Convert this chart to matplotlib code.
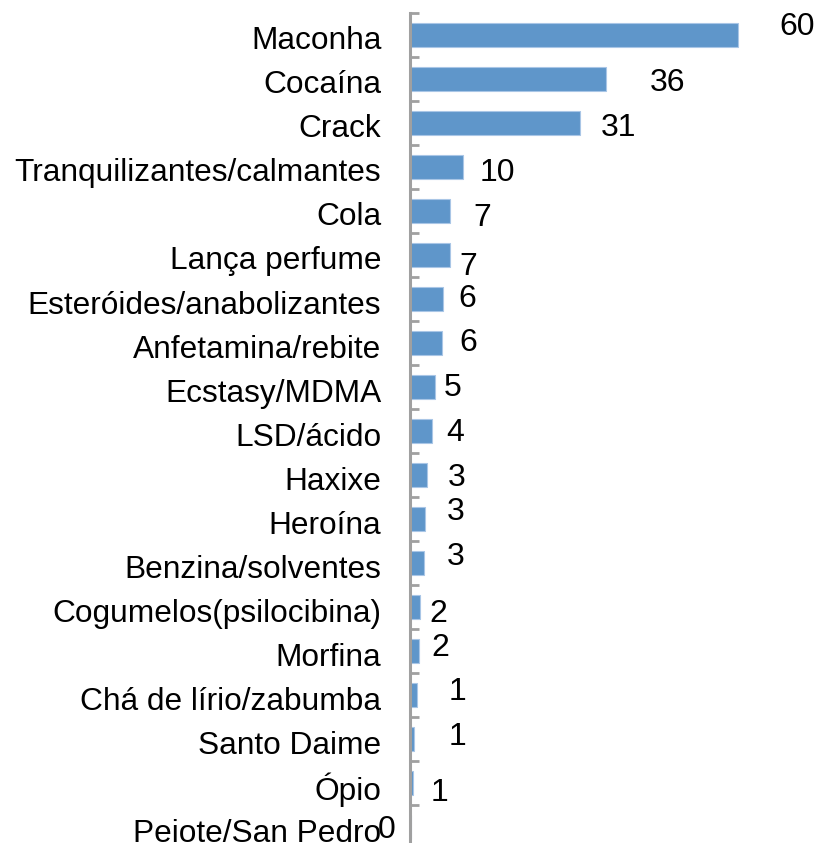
import matplotlib
matplotlib.use("Agg")
import matplotlib.pyplot as plt
import matplotlib.transforms as mtransforms
import numpy as np

plt.rcParams['font.family'] = ['Liberation Sans', 'DejaVu Sans']

drugs = ["Maconha", "Cocaína", "Crack", "Tranquilizantes/calmantes", "Cola",
         "Lança perfume", "Esteróides/anabolizantes", "Anfetamina/rebite",
         "Ecstasy/MDMA", "LSD/ácido", "Haxixe", "Heroína", "Benzina/solventes",
         "Cogumelos(psilocibina)", "Morfina", "Chá de lírio/zabumba",
         "Santo Daime", "Ópio", "Peiote/San Pedro"]
values = [60, 35.8, 31.1, 9.7, 7.3, 7.3, 6.0, 5.75, 4.5, 4.0, 3.1, 2.6, 2.55,
          1.7, 1.5, 1.1, 0.7, 0.45, 0.1]
value_labels = ["60", "36", "31", "10", "7", "7", "6", "6", "5", "4", "3", "3",
                "3", "2", "2", "1", "1", "1", "0"]

# hand-placed label nudges (pixels from bar end / bar centre)
label_dx = [59, 62, 38, 34, 32, 18, 24, 26, 18, 23, 29, 31, 31, 19, 22, 41, 43, 27, -24]
label_dy = [8, -4, -5, -6, -7, -12, 0, 0, -1, -2, -3, 7, 6, -7, 3, 3, 2, -10, -3]

fig = plt.figure(figsize=(8.2, 8.43), dpi=100)
ax = fig.add_axes([410.5 / 820, 0.98458 - 0.99170, 1 - 410.5 / 820, 0.99170])

y = np.arange(len(drugs))
ax.barh(y, values, height=0.55, color='#5F96CA', edgecolor='#A9C6E6', linewidth=0.8)

for i, (v, lab) in enumerate(zip(values, value_labels)):
    ax.annotate(lab, xy=(v, i), xytext=(label_dx[i], label_dy[i]),
                textcoords='offset pixels', ha='center', va='center', fontsize=23)

ax.set_xlim(0, 409.5 / 5.46)
ax.set_ylim(len(drugs) - 0.5, -0.5)

ax.set_yticks(y)
ax.set_yticklabels(drugs, fontsize=22.8)
ax.set_yticks(np.arange(len(drugs) + 1) - 0.5, minor=True)
ax.tick_params(axis='y', which='major', length=0, pad=21)
ax.tick_params(axis='y', which='minor', length=6.5, width=2, direction='in', color='#A0A0A0')
ax.set_xticks([])

# category names sit a touch below the bar centres in the original
shift = mtransforms.ScaledTranslation(0, -3 / 100, fig.dpi_scale_trans)
for t in ax.get_yticklabels():
    t.set_va('center_baseline')
    t.set_transform(t.get_transform() + shift)

for s in ['top', 'right', 'bottom']:
    ax.spines[s].set_visible(False)
ax.spines['left'].set_color('#A0A0A0')
ax.spines['left'].set_linewidth(2.2)

fig.savefig("out.png", dpi=100)
